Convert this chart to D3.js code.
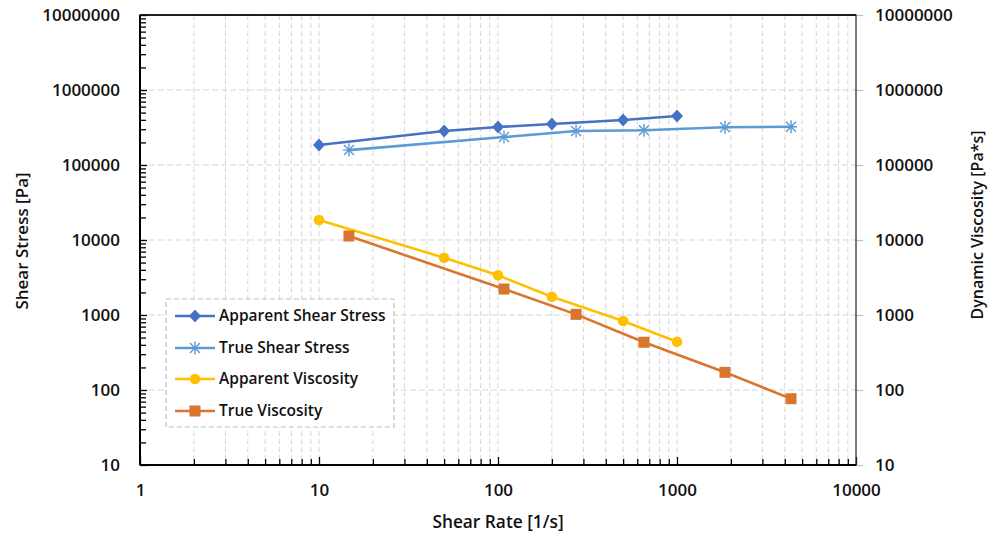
<!DOCTYPE html>
<html><head><meta charset="utf-8">
<script src="https://cdn.jsdelivr.net/npm/d3@7"></script>
<style>body{margin:0;background:#fff}</style>
</head><body>
<svg id="c" width="998" height="535"></svg>
<script>
const seriesNames = ["Apparent Shear Stress","True Shear Stress","Apparent Viscosity","True Viscosity"];
const apparentRate = [10, 50, 100, 200, 500, 1000];
const apparentStress = [185000, 284000, 321000, 352000, 398000, 450000];
const trueRate = [14.7, 108, 273, 654, 1854, 4335];
const trueStress = [158000, 236000, 284000, 290000, 318000, 324000];
const apparentVisc = [18500, 5800, 3380, 1750, 832, 440];
const trueVisc = [11300, 2220, 1020, 433, 172, 76.5];
const xTickLabels = [1, 10, 100, 1000, 10000];
const yTickLabels = [10, 100, 1000, 10000, 100000, 1000000, 10000000];

const svg = d3.select("#c");
const L = 140, R = 856, T = 15, B = 465;
const x = d3.scaleLog().domain([1, 10000]).range([L, R]);
const y = d3.scaleLog().domain([10, 10000000]).range([B, T]);
const y2 = d3.scaleLog().domain([10, 10000000]).range([B, T]);
const font = "'Open Sans', sans-serif";
const gridC = "#d6d6d6";
const tickFS = 17;

// minor values
const minorX = [];
for (let d = 1; d < 10000; d *= 10) for (let k = 2; k <= 9; k++) minorX.push(d * k);
const minorY = [];
for (let d = 10; d < 10000000; d *= 10) for (let k = 2; k <= 9; k++) minorY.push(d * k);

// grid
const g = svg.append("g");
g.selectAll("line.vx").data(minorX.concat(xTickLabels.slice(1, -1))).join("line")
  .attr("x1", d => x(d)).attr("x2", d => x(d)).attr("y1", T).attr("y2", B)
  .attr("stroke", gridC).attr("stroke-width", 1).attr("stroke-dasharray", "5,3");
g.selectAll("line.hy").data(yTickLabels.slice(1, -1)).join("line")
  .attr("y1", d => y(d)).attr("y2", d => y(d)).attr("x1", L).attr("x2", R)
  .attr("stroke", gridC).attr("stroke-width", 1.2).attr("stroke-dasharray", "6,3");

// right axis (outside grey ticks)
const rAxis = d3.axisRight(y2).tickValues(yTickLabels).tickFormat(d3.format("d")).tickSize(7).tickPadding(12);
const ra = svg.append("g").attr("transform", `translate(${R},0)`).call(rAxis);
ra.select(".domain").remove();
ra.selectAll(".tick line").attr("stroke", "#bfbfbf").attr("stroke-width", 1.2);
ra.selectAll(".tick text").attr("font-family", font).attr("font-size", tickFS).attr("font-weight", 600).attr("fill", "#111");

// left axis: minor inside ticks
const lMinor = d3.axisRight(y).tickValues(minorY).tickFormat("").tickSize(6);
const lm = svg.append("g").attr("transform", `translate(${L},0)`).call(lMinor);
lm.select(".domain").remove();
lm.selectAll(".tick line").attr("stroke", "#000").attr("stroke-width", 1.3);
const lMajor = d3.axisLeft(y).tickValues(yTickLabels).tickFormat(d3.format("d")).tickSizeInner(-7).tickSizeOuter(0).tickPadding(20);
const la = svg.append("g").attr("transform", `translate(${L},0)`).call(lMajor);
la.select(".domain").remove();
la.selectAll(".tick line").attr("stroke", "#000").attr("stroke-width", 1.3);
la.selectAll(".tick text").attr("font-family", font).attr("font-size", tickFS).attr("font-weight", 600).attr("fill", "#111");

// bottom axis
const bMinor = d3.axisTop(x).tickValues(minorX).tickFormat("").tickSize(6);
const bm = svg.append("g").attr("transform", `translate(0,${B})`).call(bMinor);
bm.select(".domain").remove();
bm.selectAll(".tick line").attr("stroke", "#000").attr("stroke-width", 1.3);
const bMajor = d3.axisBottom(x).tickValues(xTickLabels).tickFormat(d3.format("d")).tickSizeInner(-8).tickSizeOuter(0).tickPadding(19);
const ba = svg.append("g").attr("transform", `translate(0,${B})`).call(bMajor);
ba.select(".domain").remove();
ba.selectAll(".tick line").attr("stroke", "#000").attr("stroke-width", 1.3);
ba.selectAll(".tick text").attr("font-family", font).attr("font-size", tickFS).attr("font-weight", 600).attr("fill", "#111");

// frame
svg.append("rect").attr("x", L).attr("y", T).attr("width", R - L).attr("height", B - T)
  .attr("fill", "none").attr("stroke", "#333").attr("stroke-width", 1.3);
svg.append("line").attr("x1", L).attr("x2", L).attr("y1", T).attr("y2", B).attr("stroke", "#000").attr("stroke-width", 2);
svg.append("line").attr("x1", L).attr("x2", R).attr("y1", B).attr("y2", B).attr("stroke", "#000").attr("stroke-width", 2);
svg.append("line").attr("x1", L).attr("x2", R).attr("y1", T).attr("y2", T).attr("stroke", "#000").attr("stroke-width", 1.5);

// series
const colors = ["#4472C4", "#5B9BD5", "#FFC000", "#D9752E"];
const data = [
  apparentRate.map((r, i) => [r, apparentStress[i]]),
  trueRate.map((r, i) => [r, trueStress[i]]),
  apparentRate.map((r, i) => [r, apparentVisc[i]]),
  trueRate.map((r, i) => [r, trueVisc[i]])
];
const yScales = [y, y, y2, y2];
const line = (ys) => d3.line().x(d => x(d[0])).y(d => ys(d[1]));

function marker(sel, type, color) {
  if (type === 0) {
    sel.append("path").attr("d", "M0,-6.5L6,0L0,6.5L-6,0Z").attr("fill", color);
  } else if (type === 1) {
    sel.append("path").attr("d", "M-6,0H6M0,-6.5V6.5M-5,-5L5,5M-5,5L5,-5").attr("stroke", color).attr("stroke-width", 1.4).attr("fill", "none");
  } else if (type === 2) {
    sel.append("circle").attr("r", 5.3).attr("fill", color);
  } else {
    sel.append("rect").attr("x", -5.5).attr("y", -5.5).attr("width", 11).attr("height", 11).attr("fill", color);
  }
}

data.forEach((pts, si) => {
  const ys = yScales[si];
  svg.append("path").datum(pts).attr("d", line(ys)).attr("fill", "none")
    .attr("stroke", colors[si]).attr("stroke-width", 2.6);
  svg.append("g").selectAll("g").data(pts).join("g")
    .attr("transform", d => `translate(${x(d[0])},${ys(d[1])})`)
    .each(function () { marker(d3.select(this), si, colors[si]); });
});

// legend
const lg = svg.append("g");
lg.append("rect").attr("x", 166).attr("y", 299).attr("width", 228).attr("height", 128)
  .attr("fill", "#fff").attr("stroke", "#bdbdbd").attr("stroke-width", 1.2).attr("stroke-dasharray", "5,3");
const legY = [316, 348, 379, 411];
seriesNames.forEach((n, i) => {
  const gg = lg.append("g").attr("transform", `translate(0,${legY[i]})`);
  gg.append("line").attr("x1", 175).attr("x2", 215).attr("stroke", colors[i]).attr("stroke-width", 2.6);
  const m = gg.append("g").attr("transform", "translate(195,0)");
  marker(m, i, colors[i]);
  gg.append("text").attr("x", 219).attr("y", 0).attr("dy", "0.35em").text(n)
    .attr("font-family", font).attr("font-size", 15.5).attr("font-weight", 600).attr("fill", "#111");
});

// axis titles
svg.append("text").attr("transform", `translate(22,241) rotate(-90)`).attr("text-anchor", "middle")
  .attr("dy", "0.35em").text("Shear Stress [Pa]")
  .attr("font-family", font).attr("font-size", 17).attr("font-weight", 600).attr("fill", "#111");
svg.append("text").attr("transform", `translate(977,225) rotate(-90)`).attr("text-anchor", "middle")
  .attr("dy", "0.35em").text("Dynamic Viscosity [Pa*s]")
  .attr("font-family", font).attr("font-size", 16).attr("font-weight", 600).attr("fill", "#111");
svg.append("text").attr("x", 498).attr("y", 522).attr("text-anchor", "middle")
  .attr("dy", "0.35em").text("Shear Rate [1/s]")
  .attr("font-family", font).attr("font-size", 17.3).attr("font-weight", 600).attr("fill", "#111");
</script>
</body></html>
